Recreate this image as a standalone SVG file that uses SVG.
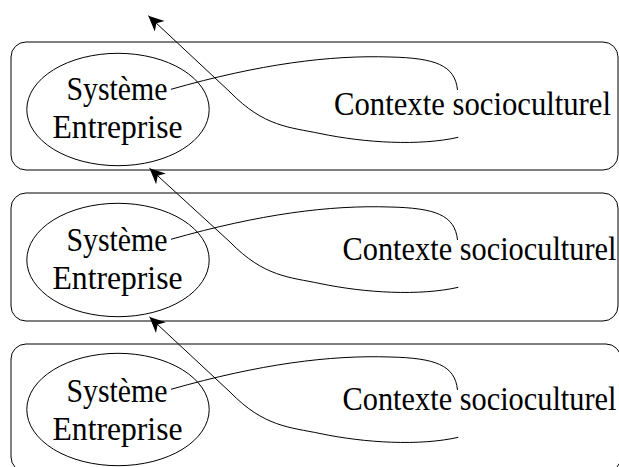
<svg xmlns="http://www.w3.org/2000/svg" width="619" height="467" viewBox="0 0 619 467">
<style>
.panel{fill:none;stroke:#000;stroke-width:1}
.sys{fill:none;stroke:#000;stroke-width:1}
.lbl{font-family:"Liberation Serif","Times New Roman",serif;font-size:34px;fill:#000}
.c{text-anchor:middle}
.con{fill:none;stroke:#000;stroke-width:1}
</style>
<defs>
<marker id="ah" markerUnits="userSpaceOnUse" markerWidth="20" markerHeight="20" viewBox="-16 -8 18 16" refX="0" refY="0" orient="auto">
<path d="M0,0 L-14,-6.5 L-10,0 L-14,6.5 z" fill="#000"/>
</marker>
</defs>
<rect width="619" height="467" fill="#fff"/>

<g id="panel1">
<rect class="panel" x="11" y="42" width="607" height="128" rx="15" ry="15"/>
<text class="lbl" x="334" y="115" textLength="277" lengthAdjust="spacingAndGlyphs">Contexte socioculturel</text>
</g>
<g id="system1">
<ellipse class="sys" cx="118" cy="109.5" rx="91.2" ry="56.2"/>
<text class="lbl c" x="117" y="100" textLength="101" lengthAdjust="spacingAndGlyphs">Système</text>
<text class="lbl c" x="117.5" y="138.3" textLength="130" lengthAdjust="spacingAndGlyphs">Entreprise</text>
</g>

<g id="panel2">
<rect class="panel" x="11" y="193" width="607" height="128" rx="15" ry="15"/>
<text class="lbl" x="342.5" y="260" textLength="274" lengthAdjust="spacingAndGlyphs">Contexte socioculturel</text>
</g>
<g id="system2">
<ellipse class="sys" cx="118" cy="260" rx="91.2" ry="56.7"/>
<text class="lbl c" x="117" y="250.7" textLength="101" lengthAdjust="spacingAndGlyphs">Système</text>
<text class="lbl c" x="117.5" y="289.3" textLength="130" lengthAdjust="spacingAndGlyphs">Entreprise</text>
</g>

<g id="panel3">
<rect class="panel" x="11" y="344" width="610" height="128" rx="15" ry="15"/>
<text class="lbl" x="342.5" y="410" textLength="274" lengthAdjust="spacingAndGlyphs">Contexte socioculturel</text>
</g>
<g id="system3">
<ellipse class="sys" cx="118" cy="409.5" rx="91.2" ry="56.2"/>
<text class="lbl c" x="117" y="401.7" textLength="101" lengthAdjust="spacingAndGlyphs">Système</text>
<text class="lbl c" x="117.5" y="440" textLength="130" lengthAdjust="spacingAndGlyphs">Entreprise</text>
</g>

<g id="connectors">
<path class="con" d="M171,89.3 C260,64 330,55 390,57 C435,58 455,65 457.5,90"/>
<path class="con" marker-end="url(#ah)" d="M458.3,137.3 C420,146 365,143 320,133.5 C290,127.2 264,127 230,92 L148.3,15.7"/>

<path class="con" d="M171,239.3 C260,214 330,205 390,207 C435,208 455,215 457.5,240"/>
<path class="con" marker-end="url(#ah)" d="M458.3,287.3 C420,296 365,293 320,283.5 C290,277.2 264,277 230,242 L149.5,168.3"/>

<path class="con" d="M171,389.3 C260,364 330,355 390,357 C435,358 455,365 457.5,390"/>
<path class="con" marker-end="url(#ah)" d="M458.3,437.3 C420,446 365,443 320,433.5 C290,427.2 264,427 230,392 L149.5,317"/>
</g>
</svg>
